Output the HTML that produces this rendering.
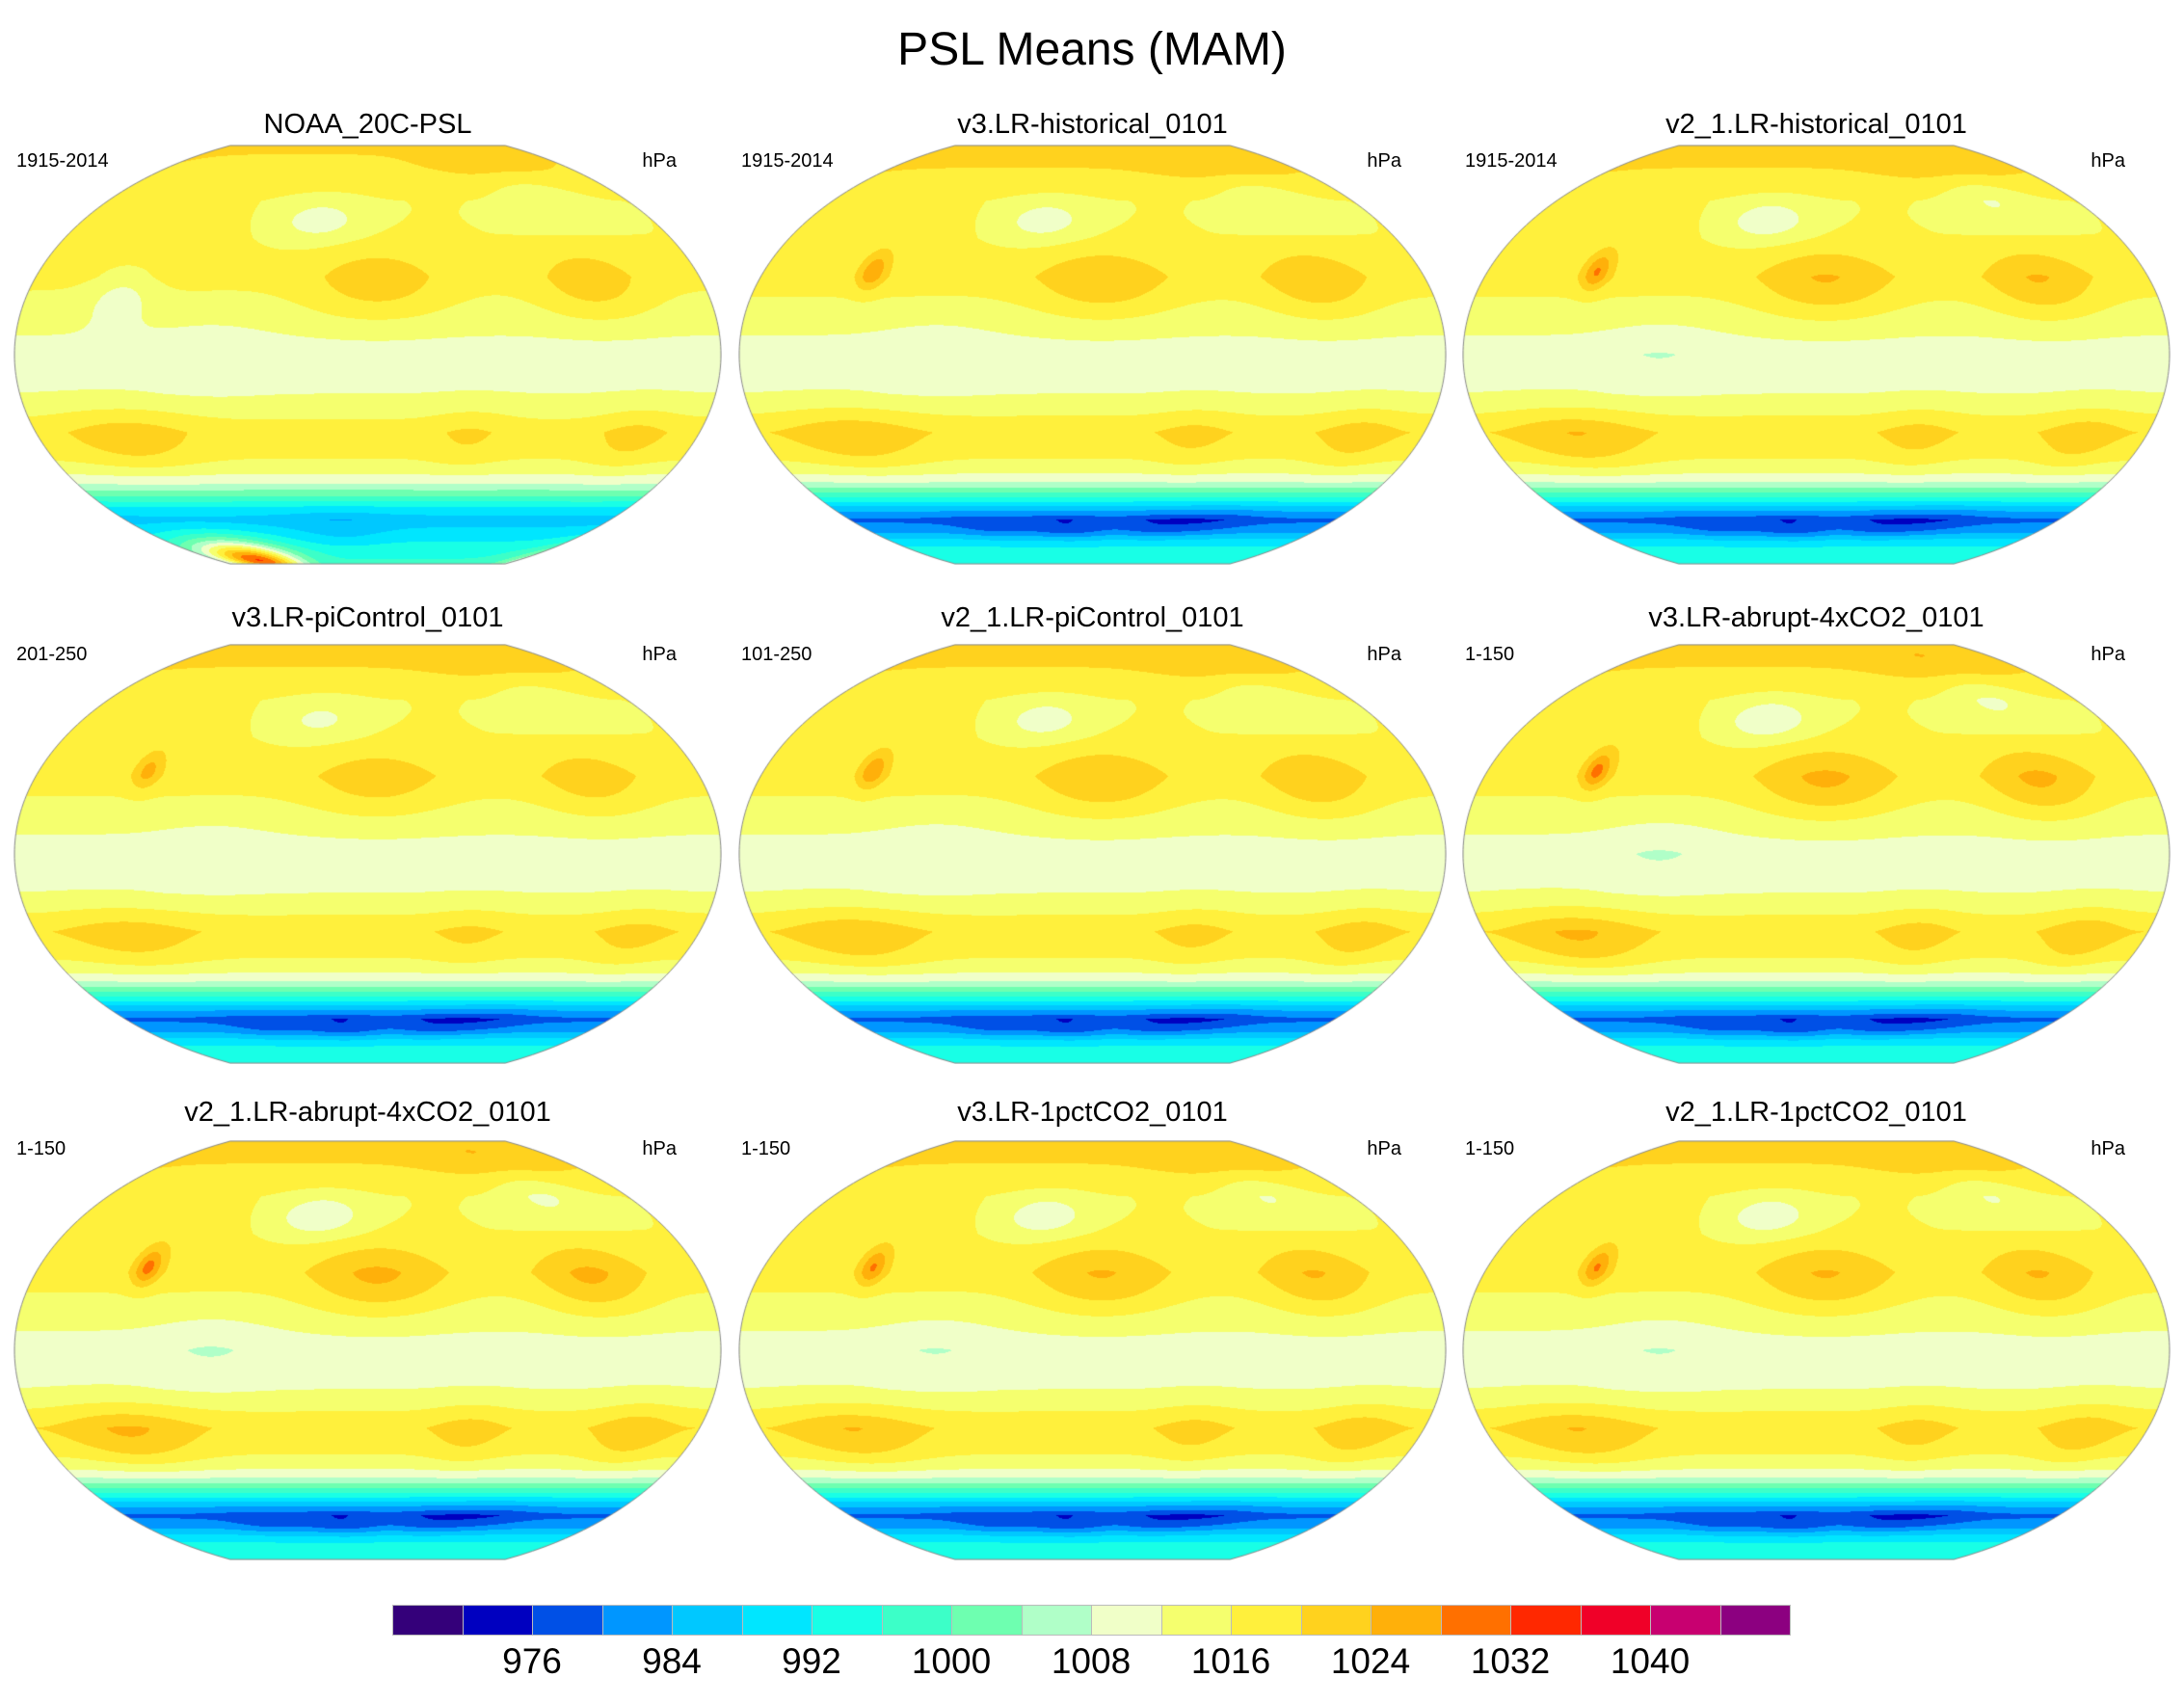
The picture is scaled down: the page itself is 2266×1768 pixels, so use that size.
<!DOCTYPE html>
<html><head><meta charset="utf-8">
<style>
body{margin:0;background:#fff;font-family:"Liberation Sans",sans-serif;}
#root{position:relative;width:2266px;height:1768px;overflow:hidden;background:#fff;}
.t{position:absolute;white-space:nowrap;color:#000;}
canvas{position:absolute;}
.cb{position:absolute;top:1665px;height:32px;border:1px solid #bbb;box-sizing:border-box;}
</style></head><body>
<div id="root">
<div class="t" style="left:0;width:2266px;text-align:center;top:24px;font-size:48px;">PSL Means (MAM)</div>
</div>
<script>
// ---- data ----
const panelTitles=["NOAA_20C-PSL","v3.LR-historical_0101","v2_1.LR-historical_0101","v3.LR-piControl_0101","v2_1.LR-piControl_0101","v3.LR-abrupt-4xCO2_0101","v2_1.LR-abrupt-4xCO2_0101","v3.LR-1pctCO2_0101","v2_1.LR-1pctCO2_0101"];
const panelYears=["1915-2014","1915-2014","1915-2014","201-250","101-250","1-150","1-150","1-150","1-150"];
const zonalLats=[90,75,60,45,30,15,0,-15,-30,-40,-45,-50,-55,-60,-65,-70,-75,-80,-90];
const zonalObs=[1021,1019,1016,1016,1017,1014,1010,1012,1018,1016,1013,1008,1000,991,986,989,992,995,997];
const zonalModel=[1022,1020,1016,1016,1018,1014,1010,1012,1019,1016,1013,1007,997,986,979,983,990,994,996];
// blobs: lon, lat, amplitude(hPa), sigma lon, sigma lat
const blobLon=[215,330,180,330,320,80,265,355,130,100];
const blobLat=[27,27,52,60,78,-33,-33,-33,0,45];
const blobAmp=[6,6,-6,-4,3,5,3,4,-2,2];
const blobSLon=[25,20,20,20,40,25,15,15,20,25];
const blobSLat=[10,10,6,8,8,8,8,8,10,10];
// panel-specific extra features
const obsExtraLon=[80,190,80];
const obsExtraLat=[-86,-70,22];
const obsExtraAmp=[36,-3,-5];
const modelExtraLon=[90,190,260,130,300];
const modelExtraLat=[32,-69,-68,-69,-66];
const modelExtraAmp=[9,-5,-4,-3,-3];
const modelScale=[1,1,1.1,0.8,1,1.2,1.2,1.1,1.1];
</script>
<script>
const root=document.getElementById('root');
const RYT=[0,0.062,0.124,0.186,0.248,0.31,0.372,0.434,0.4958,0.5571,0.6176,0.6769,0.7346,0.7903,0.8435,0.8936,0.9394,0.9761,1.0];
const COLORS=["#34007a","#0000c0","#0050e6","#0096ff","#00c8ff","#00e6ff","#18ffe6","#3cffc8","#6effb0","#b0ffc8","#f0ffc8","#f5ff6e","#fff03c","#ffd21e","#ffb00a","#ff7000","#ff2800","#f00028","#c80070","#8c0080"];
const RGB=COLORS.map(c=>[parseInt(c.substr(1,2),16),parseInt(c.substr(3,2),16),parseInt(c.substr(5,2),16)]);
const K=0.921;
function invY(a){for(let i=0;i<18;i++){if(a<=RYT[i+1]){const t=(a-RYT[i])/(RYT[i+1]-RYT[i]);return 5*(i+t);}}return 90;}
function xf(a){return Math.sqrt(1-(a*K)*(a*K));}
function zonal(arr,lat){for(let i=0;i<zonalLats.length-1;i++){if(lat<=zonalLats[i]&&lat>=zonalLats[i+1]){const t=(zonalLats[i]-lat)/(zonalLats[i]-zonalLats[i+1]);return arr[i]+(arr[i+1]-arr[i])*t;}}return arr[arr.length-1];}
function g(lon,lat,bl,bla,a,sl,sla){const d=((lon-bl+540)%360)-180;return a*Math.exp(-0.5*(d/sl)*(d/sl)-0.5*((lat-bla)/sla)*((lat-bla)/sla));}
function field(p,lon,lat){
  const obs=p===0;let v=zonal(obs?zonalObs:zonalModel,lat);
  const s=obs?1:modelScale[p];
  for(let i=0;i<blobLon.length;i++)v+=g(lon,lat,blobLon[i],blobLat[i],blobAmp[i]*s,blobSLon[i],blobSLat[i]);
  if(obs){for(let i=0;i<obsExtraLon.length;i++)v+=g(lon,lat,obsExtraLon[i],obsExtraLat[i],obsExtraAmp[i],i==2?12:(i==0?32:25),i==2?8:(i==0?8:6));}
  else{for(let i=0;i<modelExtraLon.length;i++)v+=g(lon,lat,modelExtraLon[i],modelExtraLat[i],modelExtraAmp[i]*(i==0?s:1),i==0?5:22,i==0?5:4);}
  return v;
}
const colX=[14,766,1517],rowY=[150,668,1183],rowT=[113,625,1138];
const W=735,H=436;
for(let p=0;p<9;p++){
  const c=p%3,r=Math.floor(p/3);
  const px=colX[c],py=rowY[r];
  const t=document.createElement('div');t.className='t';
  
  
  t.style.cssText=`left:${px}px;width:${W}px;text-align:center;top:${rowT[r]}px;font-size:29px;`;t.textContent=panelTitles[p];root.appendChild(t);
  const l=document.createElement('div');l.className='t';
  
  
  l.style.cssText=`left:${px+3}px;top:${rowT[r]+43}px;font-size:20px;`;l.textContent=panelYears[p];root.appendChild(l);
  const u=document.createElement('div');u.className='t';
  
  
  u.style.cssText=`left:${px+640}px;width:48px;text-align:right;top:${rowT[r]+43}px;font-size:20px;`;u.textContent='hPa';root.appendChild(u);
  const cv=document.createElement('canvas');cv.width=W;cv.height=H;
  
  
  cv.style.left=px+'px';cv.style.top=py+'px';root.appendChild(cv);
  const ctx=cv.getContext('2d');const img=ctx.createImageData(W,H);const d=img.data;
  const cx=W/2,cy=H/2,rx=W/2-1,ry=H/2-1;
  for(let y=0;y<H;y++){const ny=(cy-y-0.5)/ry;const a=Math.abs(ny);if(a>1)continue;
    const lat=(ny<0?-1:1)*invY(a);const f=xf(a);
    for(let x=0;x<W;x++){const nx=(x+0.5-cx)/(rx*f);if(Math.abs(nx)>1)continue;
      const lon=210+nx*180;const v=field(p,lon,lat);
      let k=Math.floor((v-968)/4);k=Math.max(0,Math.min(19,k));
      const o=(y*W+x)*4;d[o]=RGB[k][0];d[o+1]=RGB[k][1];d[o+2]=RGB[k][2];d[o+3]=255;}}
  ctx.putImageData(img,0,0);
  ctx.strokeStyle='#888';ctx.lineWidth=1;ctx.beginPath();
  for(let i=-50;i<=50;i++){const a=i/50;const yy=cy-a*ry;const xx=cx+xf(Math.abs(a))*rx;i==-50?ctx.moveTo(xx,yy):ctx.lineTo(xx,yy);}
  for(let i=50;i>=-50;i--){const a=i/50;const yy=cy-a*ry;const xx=cx-xf(Math.abs(a))*rx;ctx.lineTo(xx,yy);}
  ctx.closePath();ctx.stroke();
}
// colorbar
const cbLabels=["976","984","992","1000","1008","1016","1024","1032","1040"];
const bw=72.5;
for(let j=0;j<20;j++){const b=document.createElement('div');b.className='cb';
  
  
  b.style.left=(407+j*bw)+'px';b.style.width=(bw+1)+'px';b.style.background=COLORS[j];root.appendChild(b);}
for(let i=0;i<cbLabels.length;i++){const t=document.createElement('div');t.className='t';
  
  
  const x=407+(2+2*i)*bw;t.style.cssText=`left:${x-60}px;width:120px;text-align:center;top:1703px;font-size:37px;`;t.textContent=cbLabels[i];root.appendChild(t);}
</script>
</body></html>
